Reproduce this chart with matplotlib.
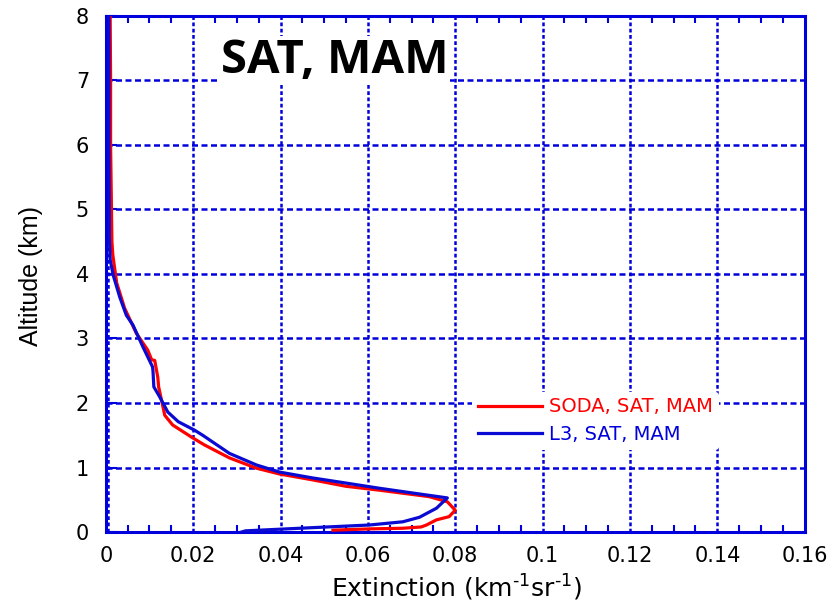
import matplotlib
matplotlib.use("Agg")
import matplotlib.pyplot as plt
from matplotlib.ticker import MultipleLocator

# Extinction profiles (km^-1 sr^-1) against altitude (km)
soda_alt = [8.0, 7.0, 6.0, 5.0, 4.5, 4.3, 4.1, 3.86, 3.47, 3.08, 2.82, 2.67, 2.66,
            2.4, 2.25, 2.0, 1.81, 1.66, 1.46, 1.35, 1.15, 0.99, 0.9, 0.81, 0.71,
            0.65, 0.55, 0.47, 0.34, 0.24, 0.19, 0.11, 0.08, 0.06, 0.05, 0.03]
soda_ext = [0.0010, 0.0011, 0.0011, 0.0013, 0.0014, 0.0016, 0.0020, 0.0025, 0.0043,
            0.0070, 0.0096, 0.0105, 0.0112, 0.0119, 0.0121, 0.0129, 0.0135, 0.0153,
            0.0199, 0.0226, 0.0283, 0.0345, 0.0398, 0.0473, 0.0550, 0.0626, 0.0740,
            0.0782, 0.0800, 0.0786, 0.0757, 0.0734, 0.0722, 0.0680, 0.0603, 0.0520]

l3_alt = [8.0, 7.0, 6.0, 5.0, 4.6, 4.22, 3.98, 3.64, 3.36, 3.21, 2.87, 2.56, 2.5,
          2.25, 2.1, 1.86, 1.71, 1.58, 1.5, 1.22, 1.04, 0.93, 0.84, 0.76, 0.68,
          0.57, 0.53, 0.37, 0.23, 0.16, 0.11, 0.06, 0.02, 0.0]
l3_ext = [0.0007, 0.0007, 0.0007, 0.0008, 0.0008, 0.0010, 0.0017, 0.0032, 0.0047,
          0.0062, 0.0085, 0.0107, 0.0108, 0.0110, 0.0123, 0.0142, 0.0166, 0.0203,
          0.0222, 0.0283, 0.0345, 0.0398, 0.0473, 0.0550, 0.0626, 0.0740, 0.0782,
          0.0757, 0.0718, 0.0680, 0.0603, 0.0444, 0.0320, 0.0310]

series_labels = ["SODA, SAT, MAM", "L3, SAT, MAM"]
x_ticks = [0, 0.02, 0.04, 0.06, 0.08, 0.1, 0.12, 0.14, 0.16]
x_tick_labels = ["0", "0.02", "0.04", "0.06", "0.08", "0.1", "0.12", "0.14", "0.16"]
y_ticks = [0, 1, 2, 3, 4, 5, 6, 7, 8]

plt.rcParams["font.family"] = ["DejaVu Sans"]
plt.rcParams["mathtext.fontset"] = "custom"
plt.rcParams["mathtext.rm"] = "DejaVu Sans"

BLUE = "#0000dc"
RED = "#ff0000"

fig = plt.figure(figsize=(8.33, 6.04), dpi=100)
ax = fig.add_axes([0.127, 0.119, 0.839, 0.855])

red_line, = ax.plot(soda_ext, soda_alt, color=RED, lw=2.3, zorder=3)
blue_line, = ax.plot(l3_ext, l3_alt, color="#0a0ad2", lw=2.3, zorder=4)

ax.set_xlim(0, 0.16)
ax.set_ylim(0, 8)
ax.set_xticks(x_ticks)
ax.set_xticklabels(x_tick_labels)
ax.set_yticks(y_ticks)
ax.xaxis.set_minor_locator(MultipleLocator(0.005))

ax.tick_params(axis="both", which="major", labelsize=15, colors=BLUE,
               labelcolor="black", direction="in", width=1.5)
ax.tick_params(axis="y", which="major", length=8, right=False, pad=12)
ax.tick_params(axis="x", which="major", length=0, pad=10)
ax.tick_params(axis="x", which="minor", direction="in", length=5, width=1.5,
               colors=BLUE, top=True, bottom=True)

for s in ax.spines.values():
    s.set_color(BLUE)
    s.set_linewidth(2.2)

# Grid: dotted verticals, dashed horizontals
for xv in x_ticks[1:-1]:
    ax.axvline(xv, color=BLUE, lw=1.8, ls=(0, (1.5, 1.0)), zorder=1)
ax.axvline(0.0005, color=BLUE, lw=1.8, ls=(0, (1.5, 1.0)), zorder=1)
for yv in y_ticks[1:-1]:
    ax.axhline(yv, color=BLUE, lw=1.8, ls=(0, (2.4, 1.4)), zorder=1)

ax.set_xlabel(r"Extinction (km$^{\text{-1}}$sr$^{\text{-1}}$)", fontsize=18)
ax.xaxis.set_label_coords(0.5015, -0.078)
ax.set_ylabel("Altitude (km)", fontsize=18,
              family=["Liberation Sans", "DejaVu Sans"])
ax.yaxis.set_label_coords(-0.09, 0.496)

leg = ax.legend([red_line, blue_line], series_labels, loc="upper left",
                bbox_to_anchor=(0.524, 0.272), frameon=True, fontsize=14,
                handlelength=3.3, handletextpad=0.35, labelspacing=0.45,
                borderpad=0.3, borderaxespad=0)
leg.get_frame().set_edgecolor("none")
leg.get_frame().set_facecolor("white")
leg.get_frame().set_alpha(1)
for txt, col in zip(leg.get_texts(), [RED, BLUE]):
    txt.set_color(col)
leg.set_zorder(5)

ax.text(0.327, 0.889, "SAT, MAM", transform=ax.transAxes, ha="center",
        va="baseline", fontsize=34, fontweight="bold",
        family=["Open Sans", "DejaVu Sans"],
        bbox=dict(facecolor="white", edgecolor="none", pad=1), zorder=5)

fig.savefig("out.png", dpi=100)
